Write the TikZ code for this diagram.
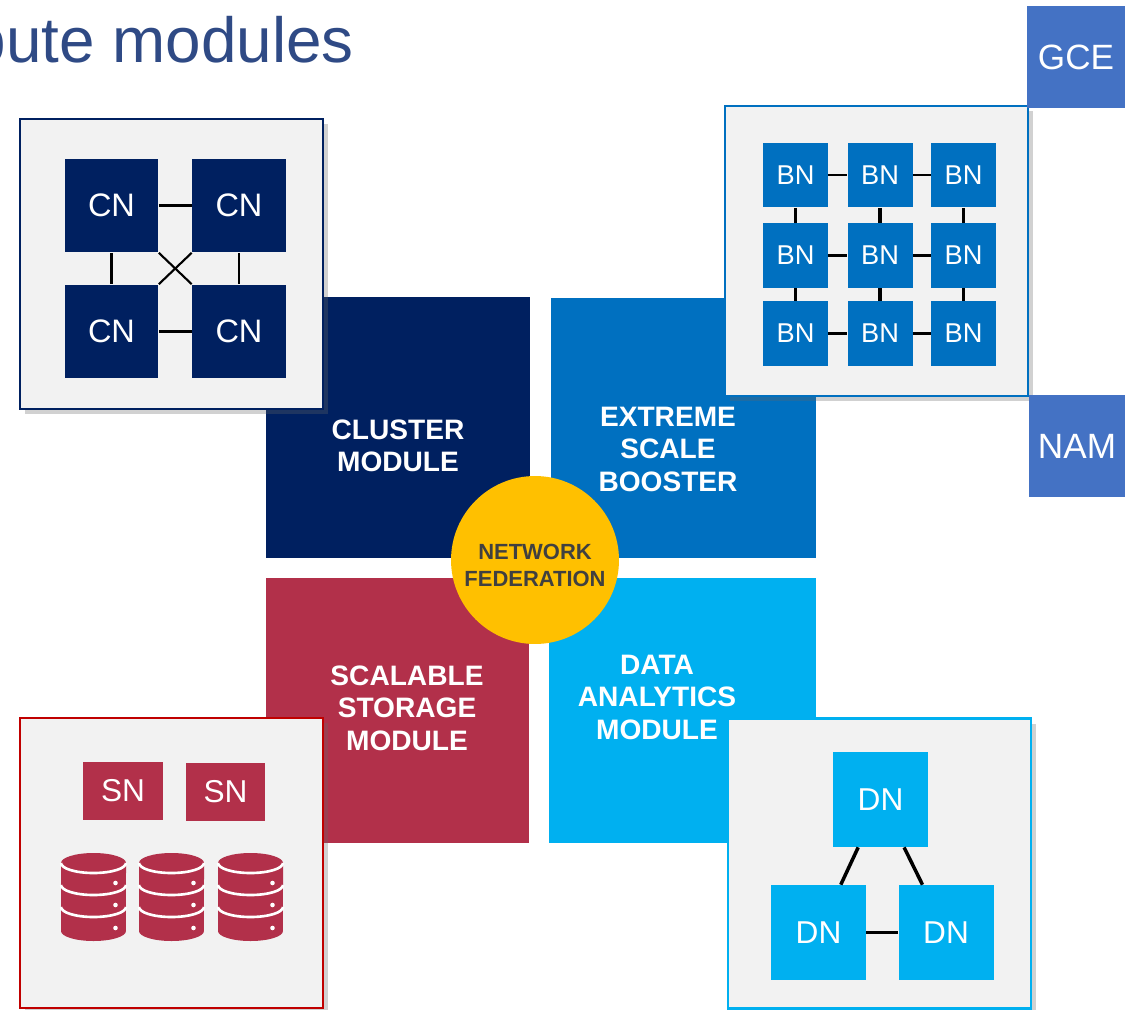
\documentclass[tikz,border=0pt]{standalone}
\usepackage{fontspec}
\setmainfont{Liberation Sans}
\usepackage{tikz}
\usetikzlibrary{shadows}

\definecolor{clustercol}{HTML}{002060}
\definecolor{boostercol}{HTML}{0070C0}
\definecolor{storagecol}{HTML}{B2304A}
\definecolor{storageline}{HTML}{C00000}
\definecolor{analyticscol}{HTML}{00B0F0}
\definecolor{netcol}{HTML}{FFC000}
\definecolor{netgray}{HTML}{404040}
\definecolor{extcol}{HTML}{4472C4}
\definecolor{panelcol}{HTML}{F2F2F2}
\definecolor{titlecol}{HTML}{2F4A85}

\begin{document}
\begin{tikzpicture}[x=0.02cm,y=0.02cm]
\useasboundingbox (0,0) rectangle (1125,-1010);

\node[anchor=base east,text=titlecol,font=\fontsize{36.3}{40}\selectfont] (title) at (360,-63) {pute modules};

\begin{scope}[every node/.style={rectangle,inner sep=0pt}]
    	\node[fill=clustercol,minimum width=5.28cm,minimum height=5.22cm] (cm) at (398,-427.5) {};
    	\node[fill=boostercol,minimum width=5.3cm,minimum height=5.2cm] (esb) at (683.5,-428) {};
    	\node[fill=storagecol,minimum width=5.26cm,minimum height=5.3cm] (ssm) at (397.5,-710.5) {};
	\node[fill=analyticscol,minimum width=5.34cm,minimum height=5.3cm] (dam) at (682.5,-710.5) {};
\end{scope}

\begin{scope}[every node/.style={text=white,align=center,font=\fontsize{16}{18.5}\selectfont\bfseries}]
    	\node (cmtext) at (398,-446) {CLUSTER\\MODULE};
    	\node (esbtext) at (668,-449) {EXTREME\\SCALE\\BOOSTER};
    	\node (ssmtext) at (407,-708) {SCALABLE\\STORAGE\\MODULE};
	\node (damtext) at (657,-697) {DATA\\ANALYTICS\\MODULE};
\end{scope}

\node[circle,fill=netcol,minimum size=3.36cm,inner sep=0pt] (nf) at (535,-560) {};
\node[text=netgray,align=center,font=\fontsize{12.5}{15.3}\selectfont\bfseries] (nftext) at (535,-565) {NETWORK\\FEDERATION};

\begin{scope}[every node/.style={rectangle,fill=panelcol,line width=1.2pt,inner sep=0pt,
              minimum width=6.06cm,minimum height=5.8cm,
              drop shadow={shadow xshift=3pt,shadow yshift=-3pt,fill=black!60,opacity=0.3}}]
    	\node[draw=clustercol] (cpanel) at (171.5,-264) {};
    	\node[draw=boostercol] (bpanel) at (876.5,-251) {};
    	\node[draw=storageline] (spanel) at (171.5,-863) {};
	\node[draw=analyticscol] (dpanel) at (879.5,-863.5) {};
\end{scope}

\begin{scope}[every node/.style={rectangle,fill=clustercol,text=white,inner sep=0pt,
              minimum size=1.88cm,font=\fontsize{18.5}{20}\selectfont}]
    	\node (c1) at (111.5,-205.5) {CN};
    	\node (c2) at (239,-205.5) {CN};
    	\node (c3) at (111.5,-331.5) {CN};
	\node (c4) at (239,-331.5) {CN};
\end{scope}

\begin{scope}[every node/.style={rectangle,fill=boostercol,text=white,inner sep=0pt,
              minimum size=1.3cm,font=\fontsize{15.5}{17}\selectfont}]
    	\node (b1) at (795.5,-175) {BN};
    	\node (b2) at (880,-175) {BN};
    	\node (b3) at (963.5,-175) {BN};
	\node (b4) at (795.5,-255.5) {BN};
    	\node (b5) at (880,-255.5) {BN};
    	\node (b6) at (963.5,-255.5) {BN};
    	\node (b7) at (795.5,-333.5) {BN};
	\node (b8) at (880,-333.5) {BN};
    	\node (b9) at (963.5,-333.5) {BN};
\end{scope}

\begin{scope}[every node/.style={rectangle,fill=storagecol,text=white,inner sep=0pt,
              minimum width=1.6cm,minimum height=1.16cm,font=\fontsize{18}{20}\selectfont}]
    	\node (s1) at (123,-790.5) {SN};
    	\node (s2) at (225.5,-791.5) {SN};
\end{scope}

\begin{scope}[every node/.style={rectangle,fill=analyticscol,text=white,inner sep=0pt,
              minimum size=1.9cm,font=\fontsize{18}{20}\selectfont}]
    	\node (d1) at (880.5,-799.5) {DN};
    	\node (d2) at (818.5,-932.5) {DN};
    	\node (d3) at (946,-932.5) {DN};
\end{scope}

\begin{scope}[every node/.style={rectangle,fill=extcol,text=white,inner sep=0pt,
              font=\fontsize{20}{22}\selectfont}]
    	\node[minimum width=1.96cm,minimum height=2.04cm] (gce) at (1076,-57) {GCE};
    	\node[minimum width=1.92cm,minimum height=2.04cm] (nam) at (1077,-446) {NAM};
\end{scope}

\foreach \cx in {93.5,171.5,250.5} {
	\fill[storagecol] (\cx-32.5,-863) -- (\cx-32.5,-931)
		arc[start angle=180,end angle=360,x radius=0.65cm,y radius=0.2cm]
		-- (\cx+32.5,-863)
		arc[start angle=0,end angle=180,x radius=0.65cm,y radius=0.2cm] -- cycle;
	\foreach \cy in {-863,-885,-907}
		\draw[white,line width=1.5pt] (\cx-32.5,\cy)
			arc[start angle=180,end angle=360,x radius=0.65cm,y radius=0.2cm];
	\foreach \cy in {-883,-905,-928}
		\fill[white] (\cx+22,\cy) circle[radius=1.3pt];
}

\begin{scope}[every edge/.style={draw=black,line width=1.2pt}]
	\path (c1) edge (c2);
	\path (c3) edge (c4);
	\path (c1) edge (c3);
	\path (c2) edge (c4);
	\path (c1.south east) edge (c4.north west);
	\path (c2.south west) edge (c3.north east);

	\path (b1) edge (b2);
	\path (b2) edge (b3);
	\path (b7) edge (b8);
	\path (b8) edge (b9);
	\path (b1) edge (b4);
	\path (b4) edge (b7);
	\path (b3) edge (b6);
	\path (b6) edge (b9);
\end{scope}

\begin{scope}[every edge/.style={draw=black,line width=2pt}]
	\path (b4) edge (b5);
	\path (b5) edge (b6);
	\path (b2) edge (b5);
	\path (b5) edge (b8);

	\path (d1) edge (d2);
	\path (d1) edge (d3);
	\path (d2) edge (d3);
\end{scope}
\end{tikzpicture}
\end{document}
